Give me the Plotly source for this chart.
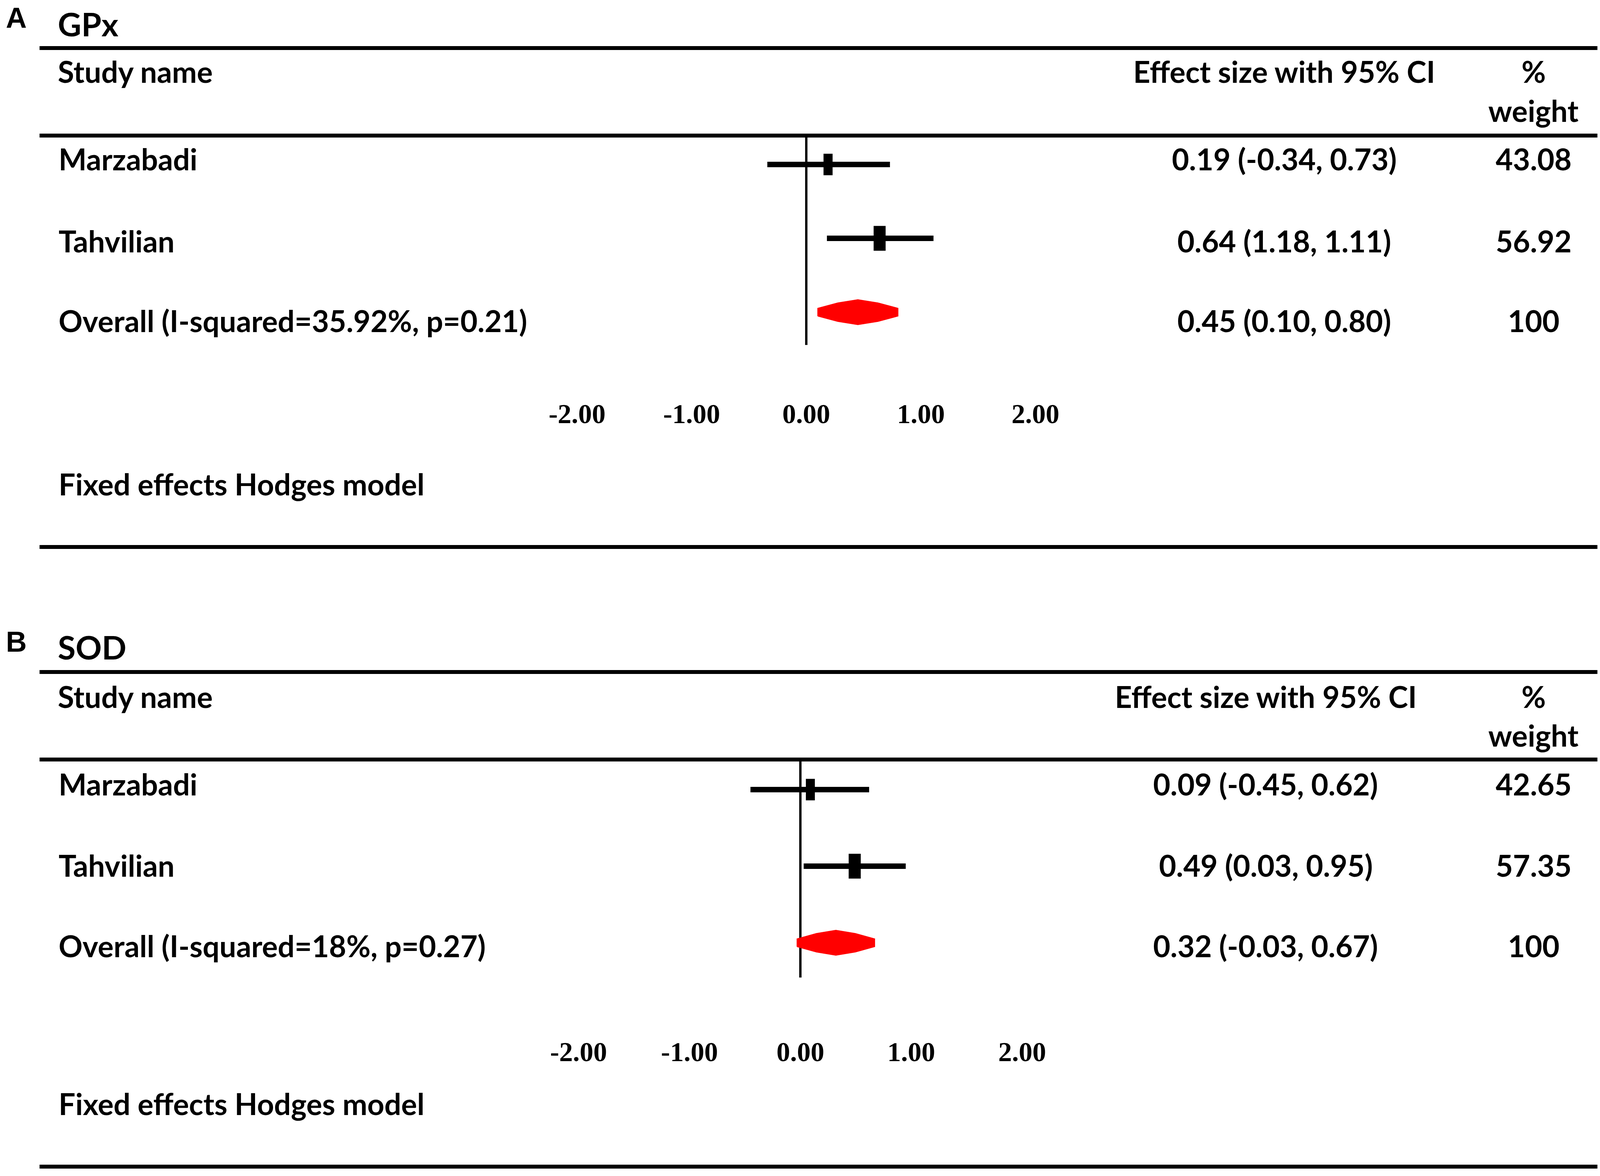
import numpy as np
import plotly.graph_objects as go

# ---- data ----
tick_vals = [-2, -1, 0, 1, 2]
tick_text = ["-2.00", "-1.00", "0.00", "1.00", "2.00"]

studies = ["Marzabadi", "Tahvilian"]

# A: GPx
gpx_effect = [0.19, 0.64]
gpx_lower = [-0.34, 0.18]   # bar is drawn from ~0.18 (label in the figure reads 1.18)
gpx_upper = [0.73, 1.11]
gpx_weight = [43.08, 56.92]
gpx_overall = [0.45, 0.10, 0.80]   # estimate, lower, upper
gpx_overall_label = "Overall (I-squared=35.92%, p=0.21)"
gpx_ci_text = ["0.19 (-0.34, 0.73)", "0.64 (1.18, 1.11)", "0.45 (0.10, 0.80)"]
gpx_weight_text = ["43.08", "56.92", "100"]

# B: SOD
sod_effect = [0.09, 0.49]
sod_lower = [-0.45, 0.03]
sod_upper = [0.62, 0.95]
sod_weight = [42.65, 57.35]
sod_overall = [0.32, -0.03, 0.67]
sod_overall_label = "Overall (I-squared=18%, p=0.27)"
sod_ci_text = ["0.09 (-0.45, 0.62)", "0.49 (0.03, 0.95)", "0.32 (-0.03, 0.67)"]
sod_weight_text = ["42.65", "57.35", "100"]

# ---- page geometry ----
# positions below are measured on the 4328 x 3010 original and used as paper fractions;
# the browser viewport is only 4096 px wide, so the page is drawn at that width
REF_W, REF_H = 4328, 3010
PAGE_W, PAGE_H = 4096, 3010
XS = PAGE_W / REF_W


def px(x):
    return x / REF_W


def py(y):
    return 1 - y / REF_H


BODY = dict(family="Lato", size=76, color="black", weight="bold")
TITLE = dict(family="Lato", size=83, color="black", weight="bold")
LETTER = dict(family="Liberation Sans", size=74, color="black", weight="bold")
TICKS = dict(family="Liberation Serif", size=70, color="black", weight="bold")

panels = [
    dict(letter="A", title="GPx", effect=gpx_effect, lower=gpx_lower, upper=gpx_upper,
         weight=gpx_weight, overall=gpx_overall, overall_label=gpx_overall_label,
         ci_text=gpx_ci_text, weight_text=gpx_weight_text,
         letter_y=45, title_y=61, rules=[123, 347, 1400], head_y=182, weight_y=282,
         rows=[406, 617, 820], fixed_y=1238, eff_x=3474,
         zero_px=2181, unit_px=310, row0=421, row_px=189, dom_top=347, dom_bot=1012,
         zero_bot=883),
    dict(letter="B", title="SOD", effect=sod_effect, lower=sod_lower, upper=sod_upper,
         weight=sod_weight, overall=sod_overall, overall_label=sod_overall_label,
         ci_text=sod_ci_text, weight_text=sod_weight_text,
         letter_y=1642, title_y=1656, rules=[1720, 1944, 2986], head_y=1782, weight_y=1881,
         rows=[2006, 2214, 2420], fixed_y=2824, eff_x=3424,
         zero_px=2165, unit_px=300, row0=2021, row_px=196, dom_top=1944, dom_bot=2645,
         zero_bot=2502),
]

fig = go.Figure()
annotations = []
shapes = []
layout_axes = {}

for i, p in enumerate(panels):
    n = "" if i == 0 else str(i + 1)
    xa, ya = "x" + n, "y" + n

    y_top = -(p["row0"] - p["dom_top"]) / p["row_px"]
    y_bot = (p["dom_bot"] - p["row0"]) / p["row_px"]

    # line of no effect
    fig.add_trace(go.Scatter(
        x=[0, 0], y=[y_top, (p["zero_bot"] - p["row0"]) / p["row_px"]],
        mode="lines", line=dict(color="black", width=6),
        xaxis=xa, yaxis=ya, hoverinfo="skip"))

    # confidence interval bars
    ci_x, ci_y = [], []
    for r, (lo, hi) in enumerate(zip(p["lower"], p["upper"])):
        ci_x += [lo, hi, None]
        ci_y += [r, r, None]
    fig.add_trace(go.Scatter(
        x=ci_x, y=ci_y, mode="lines", line=dict(color="black", width=14),
        xaxis=xa, yaxis=ya, hoverinfo="skip"))

    # study point estimates: short thick vertical bars, taller for larger weight
    for r, (est, w) in enumerate(zip(p["effect"], p["weight"])):
        half_h = 4.2 * np.sqrt(w) / p["row_px"]
        fig.add_trace(go.Scatter(
            x=[est, est], y=[r - half_h, r + half_h], mode="lines",
            line=dict(color="black", width=0.57 * w * XS),
            xaxis=xa, yaxis=ya, hoverinfo="skip"))

    # pooled diamond with blunt ends and slightly bulged sides
    est, lo, hi = p["overall"]
    r = len(p["effect"])
    h = 32 / p["row_px"]
    e = 10 / p["row_px"]
    m = 0.74 * h
    ql, qh = (lo + est) / 2, (est + hi) / 2
    fig.add_trace(go.Scatter(
        x=[lo, lo, ql, est, qh, hi, hi, qh, est, ql, lo],
        y=[r + e, r - e, r - m, r - h, r - m, r - e, r + e, r + m, r + h, r + m, r + e],
        mode="lines", fill="toself", fillcolor="#ff0000",
        line=dict(color="#ff0000", width=2),
        xaxis=xa, yaxis=ya, hoverinfo="skip"))

    half = 2.5
    layout_axes["xaxis" + n] = dict(
        domain=[px(p["zero_px"] - half * p["unit_px"]), px(p["zero_px"] + half * p["unit_px"])],
        range=[-half, half], anchor=ya, showgrid=False, zeroline=False, showline=False,
        ticks="", tickvals=tick_vals, ticktext=tick_text, tickfont=TICKS)
    layout_axes["yaxis" + n] = dict(
        domain=[py(p["dom_bot"]), py(p["dom_top"])], range=[y_bot, y_top], anchor=xa,
        visible=False, showgrid=False, zeroline=False)

    # rules
    for ry in p["rules"]:
        shapes.append(dict(type="line", xref="paper", yref="paper",
                           x0=px(107), x1=px(4321), y0=py(ry), y1=py(ry),
                           line=dict(color="black", width=10)))

    def note(text, x, y, font, anchor="left"):
        annotations.append(dict(text=text, x=px(x), y=py(y), xref="paper", yref="paper",
                                xanchor=anchor, yanchor="middle", showarrow=False, font=font))

    note(p["letter"], 14, p["letter_y"], LETTER)
    note(p["title"], 154, p["title_y"], TITLE)
    note("Study name", 154, p["head_y"], BODY)
    note("Effect size with 95% CI", p["eff_x"], p["head_y"], BODY, "center")
    note("%", 4148, p["head_y"], BODY, "center")
    note("weight", 4148, p["weight_y"], BODY, "center")
    labels = studies + [p["overall_label"]]
    for k, ry in enumerate(p["rows"]):
        note(labels[k], 156, ry, BODY)
        note(p["ci_text"][k], p["eff_x"], ry, BODY, "center")
        note(p["weight_text"][k], 4148, ry, BODY, "center")
    note("Fixed effects Hodges model", 156, p["fixed_y"], BODY)

fig.update_layout(
    width=PAGE_W, height=PAGE_H,
    margin=dict(l=0, r=0, t=0, b=0),
    paper_bgcolor="white", plot_bgcolor="white",
    showlegend=False,
    annotations=annotations, shapes=shapes,
    **layout_axes)

fig.write_html("out.html", config={"displayModeBar": False},
               post_script="document.body.style.margin='0';")
